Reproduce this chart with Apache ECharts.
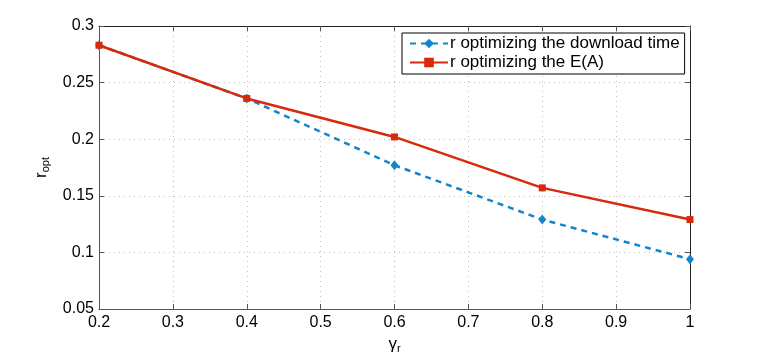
<!DOCTYPE html>
<html>
<head>
<meta charset="utf-8">
<script src="https://cdn.jsdelivr.net/npm/echarts@6/dist/echarts.min.js"></script>
<style>
  html, body { margin: 0; padding: 0; background: #fff; }
  #chart { width: 763px; height: 358px; }
</style>
</head>
<body>
<div id="chart"></div>
<script>
const gammaR = [0.2, 0.4, 0.6, 0.8, 1.0];
const rDownload = [0.283, 0.236, 0.177, 0.129, 0.094];
const rEA = [0.283, 0.236, 0.202, 0.157, 0.129];

const blue = '#1385cc';
const red = '#d8290b';
const font = 'Liberation Sans';

const chart = echarts.init(document.getElementById('chart'));

const gridLine = { show: true, lineStyle: { color: '#bdbdbd', type: [1, 4], width: 1 } };
const axisLine = { show: true, onZero: false, lineStyle: { color: '#555', width: 1 } };

const option = {
  animation: false,
  grid: { left: 99, right: 73, top: 26, bottom: 49, containLabel: false, outerBoundsMode: 'none' },
  legend: {
    left: 402,
    top: 33,
    orient: 'vertical',
    itemGap: 2,
    itemWidth: 38,
    itemHeight: 12,
    padding: [2, 5, 3, 7],
    backgroundColor: '#fff',
    borderColor: '#000',
    borderWidth: 1,
    borderRadius: 0,
    textStyle: { fontFamily: font, fontSize: 17, color: '#000', padding: [0, 0, 0, -3] },
    data: [
      { name: 'r optimizing the download time' },
      { name: 'r optimizing the E(A)' }
    ]
  },
  xAxis: [{
    type: 'value',
    min: 0.2,
    max: 1,
    interval: 0.1,
    name: '{g|γ}{s|r}',
    nameLocation: 'middle',
    nameGap: 23,
    nameTextStyle: {
      rich: {
        g: { fontFamily: font, fontSize: 17, color: '#000' },
        s: { fontFamily: font, fontSize: 11, color: '#000', verticalAlign: 'bottom', padding: [10, 0, 0, 0] }
      }
    },
    axisLine: axisLine,
    axisTick: { show: true, inside: true, length: 5, lineStyle: { color: '#555' } },
    axisLabel: {
      fontFamily: font, fontSize: 16, color: '#000', margin: 6,
      formatter: v => String(Math.round(v * 10) / 10)
    },
    splitLine: gridLine
  }, {
    type: 'value',
    position: 'top',
    min: 0.2,
    max: 1,
    interval: 0.1,
    axisLine: { show: true, onZero: false, lineStyle: { color: '#222', width: 1 } },
    axisTick: { show: true, inside: true, length: 5, lineStyle: { color: '#555' } },
    axisLabel: { show: false },
    splitLine: { show: false }
  }],
  yAxis: [{
    type: 'value',
    min: 0.05,
    max: 0.3,
    interval: 0.05,
    name: '{r|r}{s|opt}',
    nameLocation: 'middle',
    nameGap: 45,
    nameRotate: 90,
    nameTextStyle: {
      rich: {
        r: { fontFamily: font, fontSize: 17, color: '#000' },
        s: { fontFamily: font, fontSize: 11, color: '#000', verticalAlign: 'bottom', padding: [10, 0, 0, 0] }
      }
    },
    axisLine: axisLine,
    axisTick: { show: true, inside: true, length: 5, lineStyle: { color: '#555' } },
    axisLabel: {
      fontFamily: font, fontSize: 16, color: '#000', margin: 5,
      formatter: v => String(Math.round(v * 100) / 100)
    },
    splitLine: gridLine
  }, {
    type: 'value',
    position: 'right',
    min: 0.05,
    max: 0.3,
    interval: 0.05,
    axisLine: { show: true, onZero: false, lineStyle: { color: '#222', width: 1 } },
    axisTick: { show: true, inside: true, length: 5, lineStyle: { color: '#555' } },
    axisLabel: { show: false },
    splitLine: { show: false }
  }],
  series: [{
    name: 'r optimizing the download time',
    type: 'line',
    data: gammaR.map((g, i) => [g, rDownload[i]]),
    symbol: 'diamond',
    symbolSize: [8, 10],
    showAllSymbol: true,
    itemStyle: { color: blue },
    lineStyle: { color: blue, width: 2.5, type: [6, 5] },
    z: 2
  }, {
    name: 'r optimizing the E(A)',
    type: 'line',
    data: gammaR.map((g, i) => [g, rEA[i]]),
    symbol: 'rect',
    symbolSize: 7,
    showAllSymbol: true,
    itemStyle: { color: red },
    lineStyle: { color: red, width: 2.5 },
    z: 3
  }]
};

chart.setOption(option);
</script>
</body>
</html>
